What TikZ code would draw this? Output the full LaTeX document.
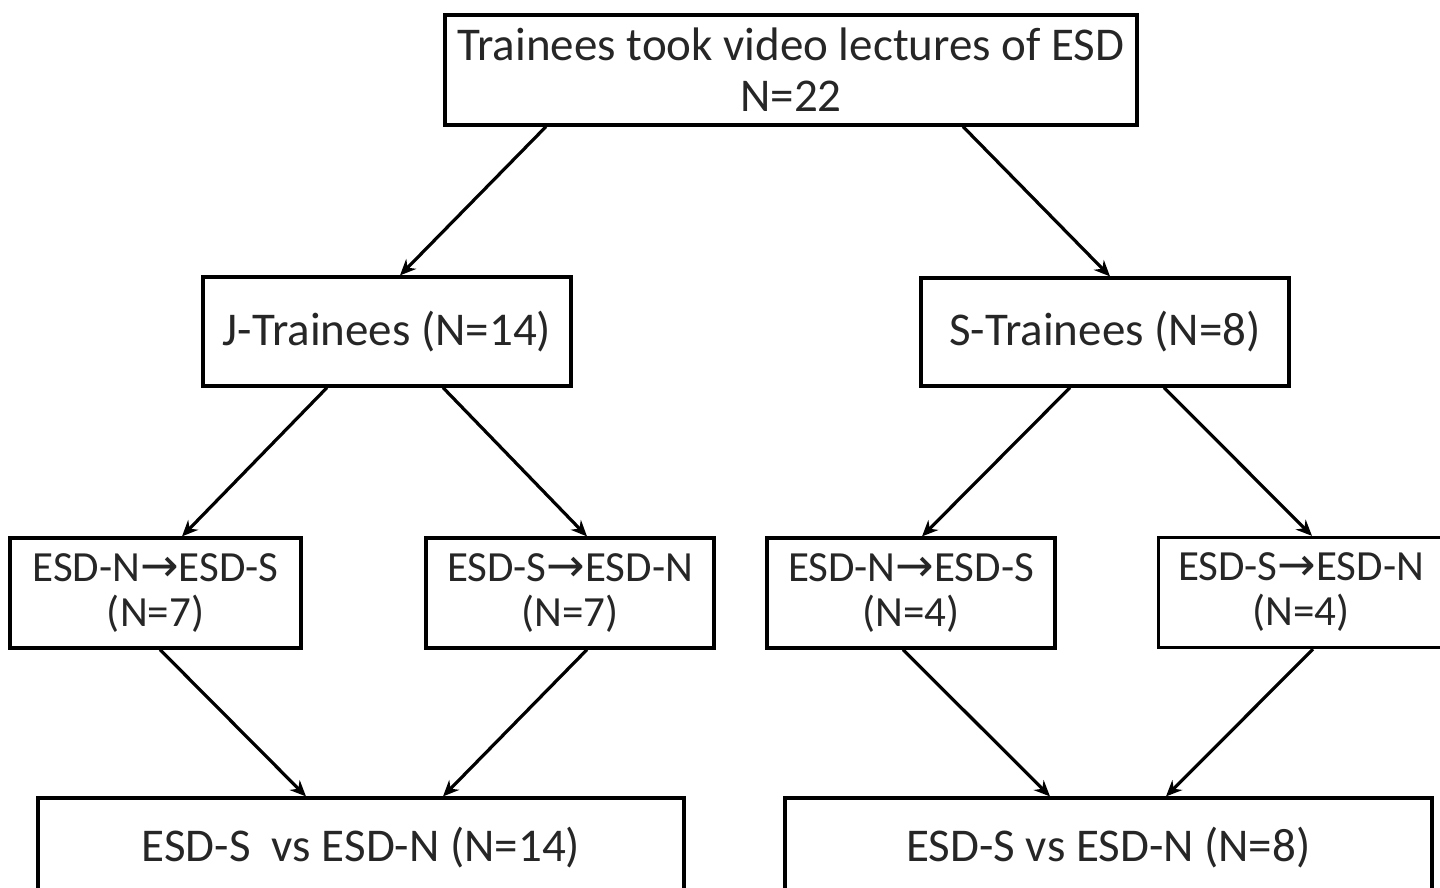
\documentclass[tikz,border=0pt]{standalone}
\usepackage{fontspec}
\setmainfont{Carlito}
\newfontfamily\arrfont{DejaVu Sans}
\usetikzlibrary{arrows.meta}
\newcommand{\ra}{{\arrfont\fontsize{23}{21}\selectfont →}}
\begin{document}
\begin{tikzpicture}[x=0.5pt,y=-0.5pt,
  box/.style={draw=black,line width=1.6pt,rectangle,inner sep=0pt,align=center,text=black!85},
  bigtxt/.style={font=\fontsize{23.5}{25.5}\selectfont},
  smalltxt/.style={font=\fontsize{21.5}{22.5}\selectfont},
  conn/.style={line width=1.6pt,-{Stealth[length=8pt,width=7pt]}}]
\useasboundingbox (0,0) rectangle (1440,888);
\node[box,bigtxt,minimum width=346pt,minimum height=55pt] (top) at (791,70) {Trainees took video lectures of ESD\\N=22};
\node[box,bigtxt,minimum width=184pt,minimum height=54.5pt] (J) at (387,331.5) {J-Trainees (N=14)};
\node[box,bigtxt,minimum width=184pt,minimum height=54pt] (S) at (1105,332) {S-Trainees (N=8)};
\node[box,smalltxt,minimum width=145.5pt,minimum height=55pt] (L1) at (155.5,593) {ESD-N\ra ESD-S\\(N=7)};
\node[box,smalltxt,minimum width=144pt,minimum height=55pt] (L2) at (570,593) {ESD-S\ra ESD-N\\(N=7)};
\node[box,smalltxt,minimum width=144pt,minimum height=55pt] (R1) at (911,593) {ESD-N\ra ESD-S\\(N=4)};
\node[box,smalltxt,minimum width=142.5pt,minimum height=55pt] (R2) at (1301,592.5) {ESD-S\ra ESD-N\\(N=4)};
\node[box,bigtxt,minimum width=323pt,minimum height=50pt] (BL) at (361,848) {ESD-S\ \ vs ESD-N (N=14)};
\node[box,bigtxt,minimum width=323.5pt,minimum height=50pt] (BR) at (1108.5,848) {ESD-S vs ESD-N (N=8)};
\draw[conn] ([xshift=-122.5pt]top.south) -- ([xshift=6.5pt]J.north);
\draw[conn] ([xshift=86pt]top.south) -- ([xshift=2.5pt]S.north);
\draw[conn] ([xshift=-30pt]J.south) -- ([xshift=13.25pt]L1.north);
\draw[conn] ([xshift=28pt]J.south) -- ([xshift=8.5pt]L2.north);
\draw[conn] ([xshift=-17.5pt]S.south) -- ([xshift=5.5pt]R1.north);
\draw[conn] ([xshift=29.5pt]S.south) -- ([xshift=5.5pt]R2.north);
\draw[conn] ([xshift=2.25pt]L1.south) -- ([xshift=-27.5pt]BL.north);
\draw[conn] ([xshift=8.5pt]L2.south) -- ([xshift=41pt]BL.north);
\draw[conn] ([xshift=-4pt]R1.south) -- ([xshift=-29.25pt]BR.north);
\draw[conn] ([xshift=6pt]R2.south) -- ([xshift=28.75pt]BR.north);
\end{tikzpicture}
\end{document}
